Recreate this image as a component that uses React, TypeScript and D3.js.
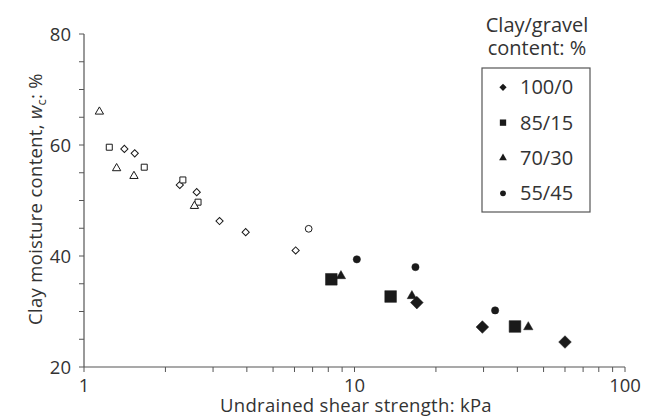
import React, { useEffect, useRef } from 'react';
import * as d3 from 'd3';

// Clay/gravel groups
const groups = ['100/0', '85/15', '70/30', '55/45'];

// open (hollow) markers: [shear strength kPa, moisture %]
const openDiamonds = [[1.41, 59.3], [1.54, 58.5], [2.26, 52.8], [2.61, 51.5], [3.17, 46.3], [3.96, 44.3], [6.06, 41.0]];
const openSquares = [[1.24, 59.6], [1.67, 56.0], [2.32, 53.7], [2.64, 49.7]];
const openTriangles = [[1.14, 66.0], [1.32, 55.8], [1.53, 54.4], [2.56, 49.0]];
const openCircles = [[6.77, 44.9]];

// filled markers
const filledDiamonds = [[17.0, 31.6], [29.7, 27.2], [60.0, 24.5]];
const filledSquares = [[8.21, 35.8], [13.6, 32.7], [39.2, 27.3]];
const filledTriangles = [[8.91, 36.4], [16.3, 32.8], [43.9, 27.2]];
const filledCircles = [[10.2, 39.4], [16.8, 38.0], [33.1, 30.2]];

const xTicks = [1, 10, 100];
const yTicks = [20, 40, 60, 80];

const FONT = '"Open Sans", "Noto Sans", sans-serif';

const App = () => {
  const ref = useRef(null);

  useEffect(() => {
    const root = d3.select(ref.current);
    root.selectAll('*').remove();

    const width = 653;
    const height = 416;
    const x = d3.scaleLog().domain([1, 100]).range([84, 625]);
    const y = d3.scaleLinear().domain([20, 80]).range([367, 34]);

    const svg = root
      .append('svg')
      .attr('width', width)
      .attr('height', height)
      .style('position', 'absolute')
      .style('left', 0)
      .style('top', 0)
      .style('background', '#fff');

    const axisColor = '#555';
    const textColor = '#333';
    const axisFont = '18.5px';
    const legendFont = '20px';

    // x axis
    const minorX = [];
    for (let d = 1; d < 100; d *= 10) for (let k = 1; k <= 10; k++) minorX.push(d * k);
    svg.append('line')
      .attr('x1', x(1)).attr('x2', x(100))
      .attr('y1', y(20)).attr('y2', y(20))
      .attr('stroke', axisColor).attr('stroke-width', 1.2);
    svg.selectAll('.xt').data(Array.from(new Set(minorX))).enter().append('line')
      .attr('x1', (d) => x(d)).attr('x2', (d) => x(d))
      .attr('y1', y(20)).attr('y2', y(20) + 5)
      .attr('stroke', axisColor).attr('stroke-width', 1);
    svg.selectAll('.xl').data(xTicks).enter().append('text')
      .attr('x', (d) => x(d)).attr('y', 392)
      .attr('text-anchor', 'middle')
      .style('font-family', FONT).style('font-size', axisFont).style('fill', textColor)
      .text((d) => d);
    svg.append('text')
      .attr('x', 356).attr('y', 412)
      .attr('text-anchor', 'middle')
      .style('font-family', FONT).style('font-size', axisFont).style('fill', textColor)
      .style('letter-spacing', '0.3px')
      .text('Undrained shear strength: kPa');

    // y axis
    svg.append('line')
      .attr('x1', x(1)).attr('x2', x(1))
      .attr('y1', y(20)).attr('y2', y(80))
      .attr('stroke', axisColor).attr('stroke-width', 1.2);
    svg.selectAll('.yt').data(d3.range(20, 81, 5)).enter().append('line')
      .attr('x1', x(1) - 5).attr('x2', x(1))
      .attr('y1', (d) => y(d)).attr('y2', (d) => y(d))
      .attr('stroke', axisColor).attr('stroke-width', 1);
    svg.selectAll('.yl').data(yTicks).enter().append('text')
      .attr('x', 71).attr('y', (d) => y(d) + 6.5)
      .attr('text-anchor', 'end')
      .style('font-family', FONT).style('font-size', axisFont).style('fill', textColor)
      .text((d) => d);

    const yLabel = svg.append('text')
      .attr('transform', 'translate(42,199) rotate(-90)')
      .attr('text-anchor', 'middle')
      .style('font-family', FONT).style('font-size', axisFont).style('fill', textColor)
      .style('letter-spacing', '0.3px');
    yLabel.append('tspan').text('Clay moisture content, ');
    yLabel.append('tspan').style('font-style', 'italic').text('w');
    yLabel.append('tspan').attr('dy', 4).style('font-size', '13px').text('c');
    yLabel.append('tspan').attr('dy', -4).text(': %');

    // markers
    const sym = (type, size) => d3.symbol().type(type).size(size)();
    const plot = (data, type, size, filled, rot = 0) => {
      svg.append('g').selectAll('path').data(data).enter().append('path')
        .attr('d', sym(type, size))
        .attr('transform', (d) => `translate(${x(d[0])},${y(d[1])}) rotate(${rot})`)
        .attr('fill', filled ? '#1a1a1a' : '#fff')
        .attr('stroke', '#1a1a1a')
        .attr('stroke-width', filled ? 0.5 : 1);
    };

    plot(openDiamonds, d3.symbolSquare, 26, false, 45);
    plot(openSquares, d3.symbolSquare, 36, false);
    plot(openTriangles, d3.symbolTriangle, 30, false);
    plot(openCircles, d3.symbolCircle, 36, false);

    plot(filledDiamonds, d3.symbolSquare, 80, true, 45);
    plot(filledSquares, d3.symbolSquare, 136, true);
    plot(filledTriangles, d3.symbolTriangle, 38, true);
    plot(filledCircles, d3.symbolCircle, 42, true);

    // legend
    svg.append('text').attr('x', 537).attr('y', 32).attr('text-anchor', 'middle')
      .style('font-family', FONT).style('font-size', legendFont).style('fill', textColor)
      .text('Clay/gravel');
    svg.append('text').attr('x', 537).attr('y', 55).attr('text-anchor', 'middle')
      .style('font-family', FONT).style('font-size', legendFont).style('fill', textColor)
      .text('content: %');
    svg.append('rect')
      .attr('x', 482).attr('y', 68).attr('width', 108).attr('height', 144)
      .attr('fill', '#fff').attr('stroke', axisColor).attr('stroke-width', 1.2);

    const legendSyms = [
      [d3.symbolSquare, 26, 45],
      [d3.symbolSquare, 40, 0],
      [d3.symbolTriangle, 26, 0],
      [d3.symbolCircle, 26, 0],
    ];
    const rowY = d3.scaleLinear().domain([0, 3]).range([87.3, 193.3]);
    groups.forEach((g, i) => {
      const [type, size, rot] = legendSyms[i];
      svg.append('path')
        .attr('d', sym(type, size))
        .attr('transform', `translate(503,${rowY(i)}) rotate(${rot})`)
        .attr('fill', '#1a1a1a');
      svg.append('text')
        .attr('x', 520).attr('y', rowY(i) + 7)
        .style('font-family', FONT).style('font-size', legendFont).style('fill', textColor)
        .text(g);
    });
  }, []);

  return <div ref={ref}></div>;
};

export default App;
